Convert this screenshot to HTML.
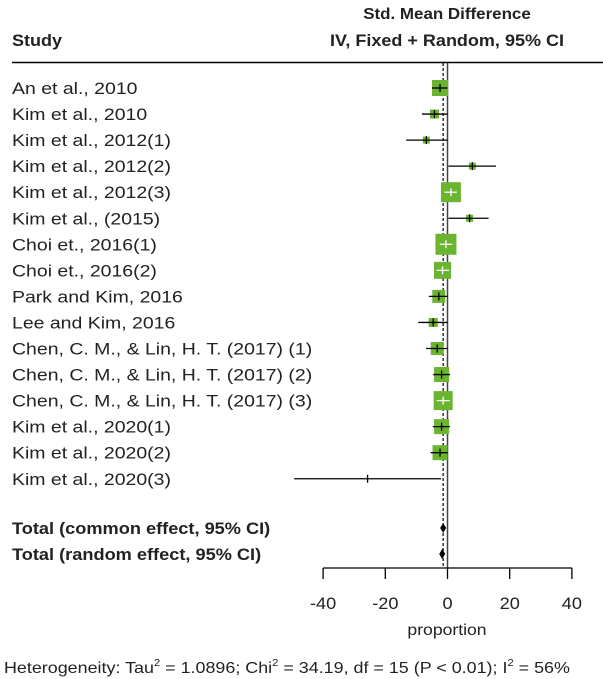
<!DOCTYPE html>
<html><head><meta charset="utf-8"><style>
body{margin:0;background:#fff;width:603px;height:679px;overflow:hidden}
svg{display:block;font-family:"Liberation Sans",Arial,sans-serif}
</style></head><body>
<svg id="c" width="603" height="679" xmlns="http://www.w3.org/2000/svg">
<text transform="translate(447,19) scale(1.06,1)" font-size="16" font-weight="bold" text-anchor="middle" fill="#222">Std. Mean Difference</text>
<text transform="translate(12,46) scale(1.06,1)" font-size="17" font-weight="bold" fill="#222">Study</text>
<text transform="translate(447,46) scale(1.06,1)" font-size="17" font-weight="bold" text-anchor="middle" fill="#222">IV, Fixed + Random, 95% CI</text>
<line x1="12" y1="62.5" x2="603" y2="62.5" stroke="#000" stroke-width="1.5"/>
<g id="rows"></g>
<text transform="translate(12,534) scale(1.07,1)" font-size="17" font-weight="bold" fill="#222">Total (common effect, 95% CI)</text>
<text transform="translate(12,560) scale(1.07,1)" font-size="17" font-weight="bold" fill="#222">Total (random effect, 95% CI)</text>
<g id="axis"></g>
<text transform="translate(447,635) scale(1.1,1)" font-size="16" text-anchor="middle" fill="#222">proportion</text>
<text transform="translate(4,673) scale(1.12,1)" font-size="16" fill="#222">Heterogeneity: Tau<tspan dy="-7" font-size="10">2</tspan><tspan dy="7"> = 1.0896; Chi</tspan><tspan dy="-7" font-size="10">2</tspan><tspan dy="7"> = 34.19, df = 15 (P &lt; 0.01); I</tspan><tspan dy="-7" font-size="10">2</tspan><tspan dy="7"> = 56%</tspan></text>
</svg>
<script>
const studies=["An et al., 2010","Kim et al., 2010","Kim et al., 2012(1)","Kim et al., 2012(2)","Kim et al., 2012(3)","Kim et al., (2015)","Choi et., 2016(1)","Choi et., 2016(2)","Park and Kim, 2016","Lee and Kim, 2016","Chen, C. M., & Lin, H. T. (2017) (1)","Chen, C. M., & Lin, H. T. (2017) (2)","Chen, C. M., & Lin, H. T. (2017) (3)","Kim et al., 2020(1)","Kim et al., 2020(2)","Kim et al., 2020(3)"];
const est=[-2.4,-4.2,-6.8,8,1.1,7.1,-0.5,-1.6,-2.8,-4.6,-3.3,-1.9,-1.4,-1.9,-2.4,-25.7];
const lower=[-5,-8.2,-13.3,0.3,-1,0.3,-2.5,-3.5,-6,-9.4,-6.9,-4.6,-3.5,-4.7,-5.4,-49.3];
const upper=[0,0,0,15.6,3,13.2,1.5,0.5,0,0,0,0.8,0.8,0.8,0,-2.1];
const weights=[16,9,7,7,20,7,21,17,13,9,13,15,19,15,15,0];
const commonEst=-1.4, randomEst=-1.7;
const ticks=[-40,-20,0,20,40];
const NS="http://www.w3.org/2000/svg";
const X=v=>447.5+v*3.11;
const Y=i=>88+i*26.05;
function mk(t,a,p){const e=document.createElementNS(NS,t);for(const k in a)e.setAttribute(k,a[k]);p.appendChild(e);return e;}
const rows=document.getElementById('rows');
let z=mk('line',{x1:X(0),y1:63,x2:X(0),y2:568,stroke:'#444','stroke-width':1.5},rows);


let d=mk('line',{x1:X(commonEst),y1:63,x2:X(commonEst),y2:568,stroke:'#000','stroke-width':1.2,'stroke-dasharray':'3,2'},rows);


studies.forEach((s,i)=>{
  const y=Y(i);
  const t=mk('text',{transform:`translate(12,${y+6}) scale(1.18,1)`,'font-size':16.5,fill:'#222'},rows);t.textContent=s;
  
  
  const w=weights[i];
  if(w>0){const r=mk('rect',{x:X(est[i])-w/2,y:y-w/2,width:w,height:w,fill:'#6ab42f'},rows);
    
    }
  const big=w>=17;
  const col=big?'#fff':'#000';
  const l=mk('line',{x1:X(lower[i]),y1:y,x2:X(upper[i]),y2:y,stroke:col,'stroke-width':1.3},rows);
  
  
  const m=mk('line',{x1:X(est[i]),y1:y-4,x2:X(est[i]),y2:y+4,stroke:col,'stroke-width':1.3},rows);
  
  
});
[[commonEst,528,'common-effect-diamond'],[randomEst,554,'random-effect-diamond']].forEach(([v,y,n])=>{
  const p=mk('polygon',{points:`${X(v)-3},${y} ${X(v)},${y-5} ${X(v)+3},${y} ${X(v)},${y+5}`,fill:'#000'},rows);
  
  
});
const ax=document.getElementById('axis');
const al=mk('line',{x1:X(ticks[0]),y1:568,x2:X(ticks[ticks.length-1]),y2:568,stroke:'#000','stroke-width':1.3},ax);


ticks.forEach(t=>{
  const k=mk('line',{x1:X(t),y1:568,x2:X(t),y2:579,stroke:'#000','stroke-width':1.3},ax);
  
  
  const tx=mk('text',{transform:`translate(${X(t)},609) scale(1.1,1)`,'font-size':16.5,'text-anchor':'middle',fill:'#222'},ax);tx.textContent=t;
  
  
});
</script>
</body></html>
